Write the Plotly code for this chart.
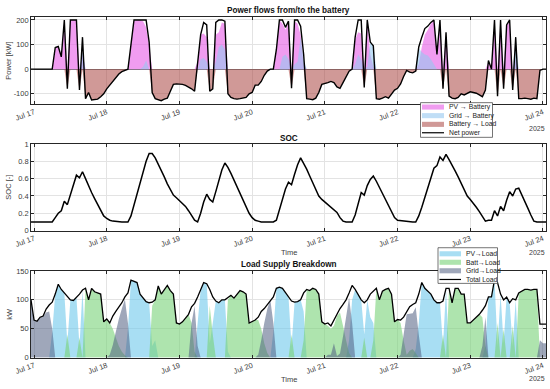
import pandas as pd
import plotly.graph_objects as go

# ---------------- data (hourly, Jul 16 23:00 ... Jul 24 01:00) ----------------
times = pd.date_range("2025-07-16 23:00", periods=171, freq="h")
day_ticks = pd.date_range("2025-07-17", "2025-07-24", freq="D")
day_labels = ["Jul 17", "Jul 18", "Jul 19", "Jul 20", "Jul 21", "Jul 22", "Jul 23", "Jul 24"]

net_power = ([0] +
    [0, 0, 0, 0, 0, 0, 0, 88, 92, 50, 200, -80, 200, 200, 200, -85, 130, -120, -95, -125, -125, -122, -112, -100] +
    [-80, -65, -50, -35, -20, -10, -4, 0, 100, 200, 200, 200, 200, 200, 110, -95, -120, -125, -128, -122, -118, -90, -62, -60] +
    [-60, -62, -66, -72, -80, -90, 40, 140, 190, 180, -90, -80, 190, 200, 200, 195, -100, -115, -120, -122, -120, -118, -115, -100] +
    [-95, -65, -65, -50, -25, -8, 0, 0, 80, 200, 200, 170, 195, -78, 200, 200, 175, 60, -120, -122, -124, -118, -95, -62] +
    [-60, -55, -50, -55, -72, -78, -55, -30, -8, 0, 130, 200, 200, -75, 200, 110, 95, -120, -122, -118, -112, -118, -100, -85] +
    [-78, -60, -30, -5, -12, -15, -8, 90, 130, 165, 175, 190, 200, 60, 200, -80, 150, -110, -118, -120, -115, -100, -105, -98] +
    [-92, -95, -98, -105, -112, -85, 35, 0, 200, -110, 200, -80, 180, 200, -85, 130, -120, -120, -118, -120, -122, -118, -120, -5] +
    [0, 0])

pv_to_batt = ([0] +
    [0, 0, 0, 0, 0, 0, 0, 88, 92, 50, 200, 0, 200, 200, 200, 0, 60, 0, 0, 0, 0, 0, 0, 0] +
    [0, 0, 0, 0, 0, 0, 0, 0, 100, 195, 200, 200, 195, 170, 100, 0, 0, 0, 0, 0, 0, 0, 0, 0] +
    [0, 0, 0, 0, 0, 0, 30, 140, 145, 130, 0, 0, 140, 150, 190, 185, 0, 0, 0, 0, 0, 0, 0, 0] +
    [0, 0, 0, 0, 0, 0, 0, 0, 80, 200, 185, 160, 190, 0, 195, 185, 140, 20, 0, 0, 0, 0, 0, 0] +
    [0, 0, 0, 0, 0, 0, 0, 0, 0, 0, 120, 150, 145, 0, 195, 60, 10, 0, 0, 0, 0, 0, 0, 0] +
    [0, 0, 0, 0, 0, 0, 0, 20, 90, 140, 160, 185, 200, 55, 190, 0, 140, 0, 0, 0, 0, 0, 0, 0] +
    [0, 0, 0, 0, 0, 0, 30, 0, 195, 0, 190, 0, 175, 195, 0, 40, 0, 0, 0, 0, 0, 0, 0, 0] +
    [0, 0])

grid_to_batt = ([0] +
    [0, 0, 0, 0, 0, 0, 0, 0, 0, 0, 0, 0, 0, 0, 0, 0, 70, 0, 0, 0, 0, 0, 0, 0] +
    [0, 0, 0, 0, 0, 0, 0, 0, 0, 0, 0, 0, 10, 35, 0, 0, 0, 0, 0, 0, 0, 0, 0, 0] +
    [0, 0, 0, 0, 0, 0, 0, 40, 45, 30, 0, 0, 30, 90, 100, 80, 0, 0, 0, 0, 0, 0, 0, 0] +
    [0, 0, 0, 0, 0, 0, 0, 0, 0, 0, 50, 60, 40, 0, 20, 30, 130, 40, 0, 0, 0, 0, 0, 0] +
    [0, 0, 0, 0, 0, 0, 0, 0, 0, 0, 20, 60, 40, 0, 10, 110, 95, 0, 0, 0, 0, 0, 0, 0] +
    [0, 0, 0, 0, 0, 0, 0, 85, 70, 60, 55, 40, 20, 0, 0, 0, 0, 0, 0, 0, 0, 0, 0, 0] +
    [0, 0, 0, 0, 0, 0, 0, 0, 0, 0, 0, 0, 0, 0, 0, 125, 0, 0, 0, 0, 0, 0, 0, 0] +
    [0, 0])

batt_to_load = ([0] +
    [0, 0, 0, 0, 0, 0, 0, 0, 0, 0, 0, 80, 0, 0, 0, 85, 0, 120, 95, 125, 125, 122, 112, 100] +
    [80, 65, 50, 35, 20, 10, 4, 0, 0, 0, 0, 0, 0, 0, 0, 95, 120, 125, 128, 122, 118, 90, 62, 60] +
    [60, 62, 66, 72, 80, 90, 0, 0, 0, 0, 90, 80, 0, 0, 0, 0, 100, 115, 120, 122, 120, 118, 115, 100] +
    [95, 65, 65, 50, 25, 8, 0, 0, 0, 0, 0, 0, 0, 78, 0, 0, 0, 0, 120, 122, 124, 118, 95, 62] +
    [60, 55, 50, 55, 72, 78, 55, 30, 8, 0, 0, 0, 0, 75, 0, 0, 0, 120, 122, 118, 112, 118, 100, 85] +
    [78, 60, 30, 5, 12, 15, 8, 0, 0, 0, 0, 0, 0, 0, 0, 80, 0, 110, 118, 120, 115, 100, 105, 98] +
    [92, 95, 98, 105, 112, 85, 0, 0, 0, 110, 0, 80, 0, 0, 85, 0, 120, 120, 118, 120, 122, 118, 120, 5] +
    [0, 0])

soc = ([0.1] +
    [0.1, 0.1, 0.1, 0.1, 0.1, 0.1, 0.1, 0.15, 0.2, 0.23, 0.34, 0.3, 0.42, 0.54, 0.64, 0.61, 0.68, 0.6, 0.51, 0.44, 0.37, 0.3, 0.23, 0.17] +
    [0.14, 0.12, 0.11, 0.105, 0.1, 0.1, 0.1, 0.1, 0.17, 0.3, 0.43, 0.56, 0.69, 0.8, 0.89, 0.89, 0.84, 0.77, 0.69, 0.62, 0.54, 0.47, 0.41, 0.38] +
    [0.35, 0.32, 0.28, 0.23, 0.18, 0.12, 0.1, 0.2, 0.33, 0.42, 0.36, 0.33, 0.45, 0.58, 0.7, 0.78, 0.73, 0.66, 0.58, 0.5, 0.42, 0.34, 0.26, 0.2] +
    [0.15, 0.12, 0.11, 0.1, 0.1, 0.1, 0.1, 0.1, 0.12, 0.25, 0.38, 0.48, 0.56, 0.53, 0.65, 0.76, 0.84, 0.78, 0.71, 0.63, 0.55, 0.47, 0.4, 0.36] +
    [0.33, 0.3, 0.27, 0.24, 0.21, 0.15, 0.11, 0.1, 0.1, 0.1, 0.18, 0.31, 0.44, 0.41, 0.52, 0.59, 0.63, 0.57, 0.5, 0.42, 0.35, 0.28, 0.21, 0.15] +
    [0.12, 0.115, 0.11, 0.11, 0.105, 0.1, 0.1, 0.17, 0.27, 0.38, 0.5, 0.62, 0.72, 0.75, 0.85, 0.81, 0.88, 0.82, 0.76, 0.69, 0.62, 0.55, 0.47, 0.4] +
    [0.36, 0.32, 0.27, 0.22, 0.16, 0.11, 0.12, 0.12, 0.23, 0.17, 0.28, 0.23, 0.35, 0.45, 0.4, 0.48, 0.49, 0.42, 0.34, 0.26, 0.18, 0.11, 0.1, 0.1] +
    [0.1, 0.1])

total_load = ([100] +
    [65, 63, 70, 72, 84, 91, 96, 110, 127, 118, 112, 106, 100, 99, 104, 110, 117, 120, 100, 120, 114, 112, 110, 62] +
    [67, 60, 72, 80, 87, 95, 105, 112, 134, 132, 130, 110, 103, 97, 95, 96, 100, 124, 110, 117, 125, 116, 110, 60] +
    [58, 62, 68, 75, 88, 94, 105, 118, 130, 128, 118, 105, 98, 95, 100, 100, 104, 108, 103, 110, 116, 114, 110, 60] +
    [62, 65, 70, 80, 85, 92, 100, 105, 120, 122, 120, 112, 105, 98, 96, 97, 100, 112, 118, 116, 120, 118, 110, 62] +
    [58, 60, 55, 65, 75, 85, 92, 100, 112, 125, 118, 110, 100, 95, 100, 110, 115, 120, 100, 115, 118, 120, 110, 62] +
    [66, 65, 70, 80, 88, 92, 95, 110, 130, 120, 115, 110, 100, 95, 95, 98, 120, 120, 95, 120, 120, 110, 110, 60] +
    [60, 65, 70, 75, 82, 90, 105, 105, 135, 130, 110, 100, 105, 95, 102, 100, 112, 115, 118, 118, 117, 118, 118, 58] +
    [58, 58])

pv_to_load = ([0] +
    [0, 0, 0, 0, 0, 0, 45, 110, 127, 118, 112, 25, 100, 99, 104, 20, 117, 0, 0, 0, 0, 0, 0, 0] +
    [0, 0, 0, 0, 0, 0, 0, 50, 134, 132, 130, 110, 103, 97, 95, 20, 30, 0, 0, 0, 0, 0, 0, 0] +
    [0, 0, 0, 0, 0, 0, 60, 118, 130, 128, 25, 60, 98, 95, 100, 100, 10, 0, 0, 0, 0, 0, 0, 0] +
    [0, 0, 0, 0, 0, 0, 0, 45, 120, 122, 120, 112, 105, 20, 96, 97, 100, 80, 0, 0, 0, 0, 0, 0] +
    [0, 0, 0, 0, 0, 0, 0, 0, 30, 100, 118, 110, 100, 40, 100, 70, 60, 0, 0, 0, 0, 0, 0, 0] +
    [0, 0, 0, 0, 0, 0, 15, 60, 130, 120, 115, 110, 100, 95, 95, 20, 120, 0, 0, 0, 0, 0, 0, 0] +
    [0, 0, 0, 0, 0, 20, 105, 105, 135, 20, 110, 25, 105, 95, 20, 100, 0, 0, 0, 0, 0, 0, 0, 0] +
    [0, 0])

batt_supply_load = ([0] +
    [0, 0, 0, 0, 0, 0, 0, 0, 0, 0, 0, 40, 0, 0, 0, 35, 0, 120, 100, 120, 114, 112, 110, 62] +
    [67, 60, 50, 35, 20, 10, 4, 0, 0, 0, 0, 0, 0, 0, 0, 90, 100, 124, 110, 117, 125, 116, 110, 60] +
    [58, 62, 68, 75, 60, 10, 0, 0, 0, 0, 90, 40, 0, 0, 0, 0, 100, 108, 103, 110, 116, 114, 110, 60] +
    [62, 65, 65, 50, 25, 8, 0, 0, 0, 0, 0, 0, 0, 40, 0, 0, 0, 30, 118, 116, 120, 118, 110, 62] +
    [58, 55, 50, 55, 72, 78, 55, 30, 8, 0, 0, 0, 0, 35, 0, 0, 30, 120, 100, 115, 118, 120, 110, 62] +
    [66, 60, 30, 5, 12, 15, 8, 0, 0, 0, 0, 0, 0, 0, 0, 40, 0, 120, 95, 120, 120, 110, 110, 60] +
    [60, 65, 70, 75, 70, 20, 0, 0, 0, 60, 0, 50, 0, 0, 55, 0, 112, 115, 118, 118, 117, 118, 118, 0] +
    [0, 0])

grid_to_load = ([100] +
    [65, 63, 70, 72, 78, 80, 50, 0, 0, 0, 0, 0, 0, 0, 0, 0, 0, 0, 0, 0, 0, 0, 0, 0] +
    [0, 5, 22, 45, 67, 85, 101, 60, 0, 0, 0, 0, 0, 0, 0, 0, 0, 0, 0, 0, 0, 0, 0, 0] +
    [0, 0, 0, 0, 60, 90, 20, 0, 0, 0, 0, 0, 0, 0, 0, 0, 0, 0, 0, 0, 0, 0, 0, 0] +
    [0, 0, 5, 30, 60, 84, 100, 60, 0, 0, 0, 0, 0, 0, 0, 0, 0, 0, 0, 0, 0, 0, 0, 0] +
    [0, 5, 5, 25, 3, 7, 37, 70, 104, 60, 0, 0, 0, 0, 0, 0, 0, 0, 0, 0, 0, 0, 0, 0] +
    [0, 5, 40, 75, 76, 77, 87, 40, 0, 0, 0, 0, 0, 0, 0, 0, 0, 0, 0, 0, 0, 0, 0, 0] +
    [0, 0, 0, 0, 20, 70, 0, 0, 0, 0, 0, 0, 0, 0, 0, 0, 0, 0, 0, 0, 0, 0, 0, 30] +
    [25, 25])

# ---------------- layout helpers (pixel -> paper) ----------------
W, H = 550, 389
ML, MR = 31, 4
PW = W - ML - MR


def px(x):
    return (x - ML) / PW


def py(y):
    return 1 - y / H


FONT = "Liberation Sans, Arial, Helvetica, sans-serif"
AXC = "#262626"
TXT = "#404040"

C_PVB = "rgba(230,90,230,0.6)"
C_GRB = "rgba(150,200,240,0.6)"
C_BL = "rgba(170,70,65,0.55)"
C_PVL = "rgba(110,200,235,0.6)"
C_BTL = "rgba(120,210,120,0.6)"
C_GRL = "rgba(80,95,130,0.55)"

fig = go.Figure()


def area(y, color, name, xa, ya):
    fig.add_trace(go.Scatter(x=times, y=y, mode="none", fill="tozeroy", fillcolor=color,
                             name=name, xaxis=xa, yaxis=ya, showlegend=False,
                             hoverinfo="skip"))


def line(y, name, xa, ya, width=1.4):
    fig.add_trace(go.Scatter(x=times, y=y, mode="lines", line=dict(color="black", width=width),
                             name=name, xaxis=xa, yaxis=ya, showlegend=False))


# panel 1
area(pv_to_batt, C_PVB, "PV → Battery", "x", "y")
area(grid_to_batt, C_GRB, "Grid → Battery", "x", "y")
area([-v for v in batt_to_load], C_BL, "Battery → Load", "x", "y")
line(net_power, "Net power", "x", "y")
# panel 2
line(soc, "SOC", "x2", "y2", 1.5)
# panel 3
area(pv_to_load, C_PVL, "PV→Load", "x3", "y3")
area(batt_supply_load, C_BTL, "Batt→Load", "x3", "y3")
area(grid_to_load, C_GRL, "Grid→Load", "x3", "y3")
line(total_load, "Total Load", "x3", "y3", 1.3)

xcommon = dict(type="date", range=[times[0], times[-1]], tickmode="array",
               tickvals=day_ticks, ticktext=day_labels, tickangle=-20,
               ticks="inside", ticklen=3, tickcolor=AXC, showline=True, linecolor=AXC,
               linewidth=0.7, mirror="ticks", showgrid=True, gridcolor="#e3e3e3",
               gridwidth=0.6, zeroline=False,
               tickfont=dict(size=7.5, color=TXT, family=FONT))
ycommon = dict(ticks="inside", ticklen=3, tickcolor=AXC, showline=True, linecolor=AXC,
               linewidth=0.7, mirror="ticks", showgrid=True, gridcolor="#e3e3e3",
               gridwidth=0.6, tickfont=dict(size=7.5, color=TXT, family=FONT),
               tickmode="array")

fig.update_layout(
    width=W, height=H, margin=dict(l=ML, r=MR, t=0, b=0),
    paper_bgcolor="white", plot_bgcolor="white", showlegend=False,
    xaxis=dict(xcommon, anchor="y", domain=[0, 1]),
    xaxis2=dict(xcommon, anchor="y2", domain=[0, 1]),
    xaxis3=dict(xcommon, anchor="y3", domain=[0, 1]),
    yaxis=dict(ycommon, anchor="x", domain=[py(102.7), py(13.3)], range=[-143, 212],
               tickvals=[-100, 0, 100, 200], ticktext=["-100", "0", "100", "200"],
               zeroline=True, zerolinecolor="#777777", zerolinewidth=0.6),
    yaxis2=dict(ycommon, anchor="x2", domain=[py(232), py(143.3)], range=[0, 1],
                tickvals=[0, 0.2, 0.4, 0.6, 0.8, 1], ticktext=["0", "0.2", "0.4", "0.6", "0.8", "1"],
                zeroline=False),
    yaxis3=dict(ycommon, anchor="x3", domain=[py(362), py(273.3)], range=[0, 150],
                tickvals=[0, 50, 100, 150], ticktext=["0", "50", "100", "150"], zeroline=False),
)

ann = []


def text(s, x, y, size=7.5, bold=False, angle=0, xanchor="center", color=TXT):
    ann.append(dict(text=f"<b>{s}</b>" if bold else s, x=px(x), y=py(y), xref="paper",
                    yref="paper", showarrow=False, xanchor=xanchor, yanchor="middle",
                    textangle=angle, font=dict(size=size, color=color, family=FONT)))


cx = ML + PW / 2
text("Power flows from/to the battery", cx, 7, 8.2, True, color="#111")
text("SOC", cx, 137.5, 8.2, True, color="#111")
text("Load Supply Breakdown", cx, 267, 8.2, True, color="#111")
text("Power [kW]", 9, 58, 7.5, angle=-90)
text("SOC [-]", 9, 188, 7.5, angle=-90)
text("kW", 10, 317, 7.5, angle=-90)
text("Time", cx, 254.5, 7.5)
text("Time", cx, 384, 7.5)
for yy in (127, 254.5, 383.5):
    text("2025", 537, yy, 7)

shapes = []


def legend(box, rows, swx, txtx):
    x0, y0, x1, y1 = box
    shapes.append(dict(type="rect", xref="paper", yref="paper", x0=px(x0), x1=px(x1),
                       y0=py(y1), y1=py(y0), fillcolor="white",
                       line=dict(color="#3a3a3a", width=0.7), layer="above"))
    for (label, kind, color), ry in rows:
        if kind == "patch":
            shapes.append(dict(type="rect", xref="paper", yref="paper", x0=px(swx[0]),
                               x1=px(swx[1]), y0=py(ry + 2.6), y1=py(ry - 2.6),
                               fillcolor=color, line=dict(width=0), layer="above"))
        else:
            shapes.append(dict(type="line", xref="paper", yref="paper", x0=px(swx[0]),
                               x1=px(swx[1]), y0=py(ry), y1=py(ry),
                               line=dict(color="black", width=1.2), layer="above"))
        text(label, txtx, ry, 6.8, xanchor="left", color="#222")


legend((420.5, 101, 492.5, 136.5),
       [(("PV → Battery", "patch", C_PVB), 105.5),
        (("Grid → Battery", "patch", C_GRB), 114.3),
        (("Battery → Load", "patch", C_BL), 123.2),
        (("Net power", "line", None), 131.8)],
       (422, 444), 447)
legend((438, 249.5, 497.5, 286),
       [(("PV→Load", "patch", C_PVL), 255.7),
        (("Batt→Load", "patch", C_BTL), 264.4),
        (("Grid→Load", "patch", C_GRL), 273.1),
        (("Total Load", "line", None), 282)],
       (439.5, 461), 463.5)

fig.update_layout(annotations=ann, shapes=shapes)
fig.write_html("out.html", config={"displayModeBar": False},
               post_script="document.body.style.margin='0';document.body.style.overflow='hidden';")
